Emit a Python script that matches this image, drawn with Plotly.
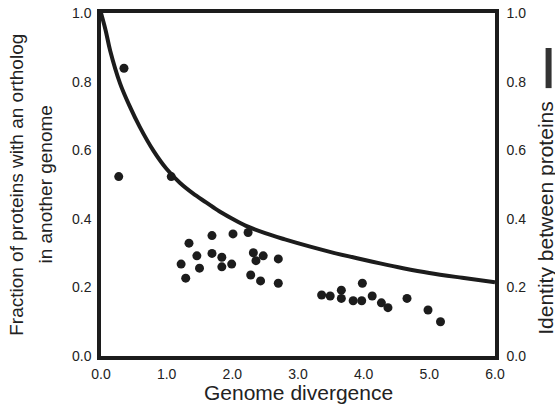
import plotly.graph_objects as go

# Curve: identity between proteins (right axis)
curve_x = [0.0, 0.07, 0.14, 0.29, 0.44, 0.59, 0.8, 1.0, 1.2, 1.4, 1.6, 1.8, 2.0, 2.2, 2.5,
           2.8, 3.2, 3.5, 3.9, 4.25, 4.6, 5.0, 5.5, 6.0]
curve_y = [1.0, 0.95, 0.89, 0.795, 0.727, 0.668, 0.598, 0.545, 0.505, 0.474, 0.448, 0.422,
           0.400, 0.380, 0.358, 0.340, 0.318, 0.303, 0.285, 0.270, 0.256, 0.242, 0.228, 0.215]

# Dots: fraction of proteins with an ortholog (left axis)
pts_x = [0.27, 0.35, 1.07, 1.22, 1.29, 1.34, 1.46, 1.50, 1.69, 1.69, 1.84, 1.84, 1.99, 2.01,
         2.24, 2.28, 2.32, 2.36, 2.43, 2.47, 2.70, 2.70, 3.36, 3.49, 3.66, 3.66, 3.84, 3.97,
         3.98, 4.13, 4.27, 4.37, 4.66, 4.98, 5.17]
pts_y = [0.523, 0.839, 0.523, 0.268, 0.227, 0.329, 0.292, 0.256, 0.351, 0.299, 0.288, 0.26,
         0.268, 0.356, 0.36, 0.236, 0.301, 0.278, 0.219, 0.292, 0.283, 0.212, 0.178, 0.175,
         0.192, 0.168, 0.161, 0.161, 0.212, 0.175, 0.155, 0.141, 0.168, 0.134, 0.10]

x_ticks = [0, 1, 2, 3, 4, 5, 6]
x_ticktext = ["0.0", "1.0", "2.0", "3.0", "4.0", "5.0", "6.0"]
y_ticks = [0, 0.2, 0.4, 0.6, 0.8, 1.0]
y_ticktext = ["0.0", "0.2", "0.4", "0.6", "0.8", "1.0"]

INK = "#1c1c1c"
FONT = "Liberation Sans, Arial, sans-serif"

fig = go.Figure()
fig.add_trace(go.Scatter(x=pts_x, y=pts_y, mode="markers",
                         marker=dict(size=9, color=INK), showlegend=False, yaxis="y"))
fig.add_trace(go.Scatter(x=curve_x, y=curve_y, mode="lines", line_shape="spline",
                         line=dict(color=INK, width=4), showlegend=False, yaxis="y2"))

axis_common = dict(showline=True, linecolor=INK, linewidth=3.5, showgrid=False,
                   zeroline=False, ticks="", automargin=False, ticklabeloverflow="allow",
                   tickfont=dict(size=14, color="#222", family=FONT))

fig.update_layout(
    template="none",
    width=555, height=408,
    margin=dict(l=101, r=60, t=13, b=52, autoexpand=False),
    paper_bgcolor="white", plot_bgcolor="white",
    font=dict(family=FONT, color="#222"),
    xaxis=dict(range=[0, 6], tickvals=x_ticks, ticktext=x_ticktext, mirror=True,
               ticklabelstandoff=2, **axis_common),
    yaxis=dict(range=[0, 1], tickvals=y_ticks, ticktext=y_ticktext, mirror=True,
               ticklabelstandoff=3, **axis_common),
    yaxis2=dict(range=[0, 1], tickvals=y_ticks, ticktext=y_ticktext, overlaying="y",
                side="right", ticklabelstandoff=5, **axis_common),
    annotations=[
        dict(text="Genome divergence", x=0.5, y=-0.105, xref="paper", yref="paper",
             showarrow=False, xanchor="center", yanchor="middle", font=dict(size=21)),
        dict(text="Fraction of proteins with an ortholog", x=-0.215, y=0.5, xref="paper",
             yref="paper", showarrow=False, textangle=-90, xanchor="center",
             yanchor="middle", font=dict(size=19)),
        dict(text="in another genome", x=-0.142, y=0.5, xref="paper", yref="paper",
             showarrow=False, textangle=-90, xanchor="center", yanchor="middle",
             font=dict(size=19)),
        dict(text="Identity between proteins", x=1.126, y=0.402, xref="paper", yref="paper",
             showarrow=False, textangle=-90, xanchor="center", yanchor="middle",
             font=dict(size=21)),
    ],
    shapes=[
        dict(type="line", xref="paper", yref="paper", x0=1.136, x1=1.136, y0=0.781, y1=0.898,
             line=dict(color="#333", width=6)),
    ],
)

# remove the default page margin so the 555x408 figure fills the window exactly
fig.write_html("out.html", config={"displayModeBar": False},
               post_script="document.body.style.margin='0';document.body.style.overflow='hidden';")
